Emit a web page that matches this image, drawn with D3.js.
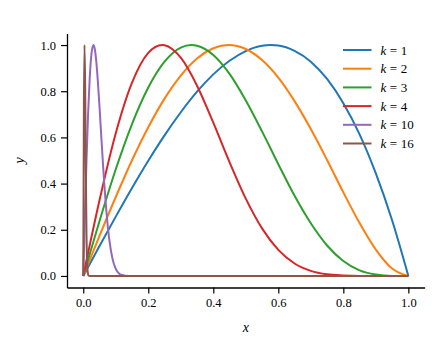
<!DOCTYPE html>
<html>
<head>
<meta charset="utf-8">
<script src="https://cdn.jsdelivr.net/npm/d3@7"></script>
<style>
  body { margin: 0; background: #fff; }
</style>
</head>
<body>
<svg id="chart" width="448" height="339"></svg>
<script>
// values
var xK1 = [0, 0.05, 0.1, 0.15, 0.2, 0.25, 0.3, 0.35, 0.4, 0.45, 0.5, 0.55, 0.577, 0.6, 0.65, 0.7, 0.75, 0.8, 0.85, 0.9, 0.95, 1];
var yK1 = [0, 0.130, 0.257, 0.381, 0.499, 0.609, 0.709, 0.798, 0.873, 0.932, 0.974, 0.997, 1.0, 0.998, 0.975, 0.928, 0.853, 0.748, 0.613, 0.444, 0.241, 0];

var xK2 = [0, 0.05, 0.1, 0.15, 0.2, 0.25, 0.3, 0.35, 0.4, 0.447, 0.5, 0.55, 0.6, 0.65, 0.7, 0.75, 0.8, 0.85, 0.9, 0.95, 1];
var yK2 = [0, 0.174, 0.342, 0.501, 0.644, 0.768, 0.868, 0.942, 0.986, 1.0, 0.983, 0.935, 0.859, 0.757, 0.636, 0.502, 0.362, 0.229, 0.114, 0.032, 0];

var xK3 = [0, 0.05, 0.1, 0.15, 0.2, 0.25, 0.3, 0.333, 0.35, 0.4, 0.45, 0.5, 0.55, 0.6, 0.65, 0.7, 0.75, 0.8, 0.85, 0.9, 0.95, 1];
var yK3 = [0, 0.238, 0.462, 0.658, 0.816, 0.928, 0.989, 1.0, 0.997, 0.957, 0.875, 0.760, 0.626, 0.484, 0.347, 0.228, 0.132, 0.065, 0.024, 0.006, 0.0, 0];

var xK4 = [0, 0.05, 0.1, 0.15, 0.2, 0.243, 0.25, 0.3, 0.35, 0.4, 0.45, 0.5, 0.55, 0.6, 0.65, 0.7, 0.75, 0.8, 0.85, 0.9, 0.95, 1];
var yK4 = [0, 0.328, 0.618, 0.837, 0.966, 1.0, 0.999, 0.945, 0.824, 0.664, 0.493, 0.335, 0.206, 0.113, 0.054, 0.022, 0.007, 0.002, 0, 0, 0, 0];

var xK10 = [0, 0.005, 0.01, 0.015, 0.02, 0.025, 0.031, 0.035, 0.04, 0.045, 0.05, 0.055, 0.06, 0.065, 0.07, 0.075, 0.08, 0.09, 0.1, 0.11, 0.12, 0.13, 0.15, 1];
var yK10 = [0, 0.261, 0.502, 0.706, 0.860, 0.958, 1.0, 0.986, 0.930, 0.841, 0.733, 0.615, 0.500, 0.393, 0.299, 0.220, 0.158, 0.074, 0.031, 0.011, 0.004, 0.001, 0, 0];

var xK16 = [0, 0.002, 0.0039, 0.006, 0.008, 0.010, 0.012, 0.014, 0.016, 0.02, 1];
var yK16 = [0, 0.73, 1.0, 0.80, 0.45, 0.18, 0.055, 0.013, 0.002, 0, 0];

var kLabels = ["1", "2", "3", "4", "10", "16"];
var colors = ["#1f77b4", "#ff7f0e", "#2ca02c", "#d62728", "#9467bd", "#8c564b"];
var xTicks = [0, 0.2, 0.4, 0.6, 0.8, 1.0];
var yTicks = [0, 0.2, 0.4, 0.6, 0.8, 1.0];

// pick the first Times-like font that is really installed
function pickSerif() {
    var ctx = document.createElement("canvas").getContext("2d");
    var probe = "0.123 k=16 xy";
    var candidates = ["Liberation Serif", "Times New Roman", "Tinos", "Nimbus Roman", "DejaVu Serif"];
    for (var i = 0; i < candidates.length; i++) {
        ctx.font = "40px monospace";
        var w0 = ctx.measureText(probe).width;
        ctx.font = "40px '" + candidates[i] + "', monospace";
        if (ctx.measureText(probe).width !== w0) return "'" + candidates[i] + "', serif";
    }
    return "serif";
}

(function() {
    var series = [
        { k: kLabels[0], xs: xK1, ys: yK1 },
        { k: kLabels[1], xs: xK2, ys: yK2 },
        { k: kLabels[2], xs: xK3, ys: yK3 },
        { k: kLabels[3], xs: xK4, ys: yK4 },
        { k: kLabels[4], xs: xK10, ys: yK10 },
        { k: kLabels[5], xs: xK16, ys: yK16 }
    ];

    var serif = pickSerif();
    var svg = d3.select("#chart").attr("font-family", serif);

    var plotLeft = 67, plotRight = 424.6, plotTop = 33.5, plotBottom = 287.5;

    // matplotlib style 5% margins on both axes
    var x = d3.scaleLinear().domain([-0.05, 1.05]).range([plotLeft, plotRight]);
    var y = d3.scaleLinear().domain([-0.05, 1.05]).range([plotBottom, plotTop]);

    // axes
    var xAxis = svg.append("g")
        .attr("transform", "translate(0," + plotBottom + ")")
        .call(d3.axisBottom(x).tickValues(xTicks).tickFormat(d3.format(".1f")).tickSize(6).tickPadding(5).tickSizeOuter(0));
    var yAxis = svg.append("g")
        .attr("transform", "translate(" + plotLeft + ",0)")
        .call(d3.axisLeft(y).tickValues(yTicks).tickFormat(d3.format(".1f")).tickSize(6).tickPadding(5).tickSizeOuter(0));

    [xAxis, yAxis].forEach(function(g) {
        g.attr("font-family", serif).attr("font-size", 12.5);
        g.select(".domain").attr("stroke", "#000").attr("stroke-width", 1.3);
        g.selectAll(".tick line").attr("stroke", "#000").attr("stroke-width", 1.2);
        g.selectAll(".tick text").attr("fill", "#000");
    });

    // lines
    var line = d3.line()
        .x(function(d) { return x(d[0]); })
        .y(function(d) { return y(d[1]); })
        .curve(d3.curveMonotoneX);

    series.forEach(function(s, i) {
        var pts = s.xs.map(function(v, j) { return [v, s.ys[j]]; });
        svg.append("path")
            .datum(pts)
            .attr("fill", "none")
            .attr("stroke", colors[i])
            .attr("stroke-width", 2)
            .attr("stroke-linejoin", "round")
            .attr("d", line);
    });

    // axis labels
    svg.append("text")
        .attr("x", (plotLeft + plotRight) / 2)
        .attr("y", 332)
        .attr("text-anchor", "middle")
        .attr("font-size", 14)
        .attr("font-style", "italic")
        .text("x");

    svg.append("text")
        .attr("transform", "translate(24," + ((plotTop + plotBottom) / 2) + ") rotate(-90)")
        .attr("text-anchor", "middle")
        .attr("font-size", 14)
        .attr("font-style", "italic")
        .text("y");

    // legend
    var legend = svg.append("g").attr("transform", "translate(343,50)");
    series.forEach(function(s, i) {
        var row = legend.append("g").attr("transform", "translate(0," + (i * 18.7) + ")");
        row.append("line")
            .attr("x1", 0).attr("x2", 28.5)
            .attr("y1", 0).attr("y2", 0)
            .attr("stroke", colors[i])
            .attr("stroke-width", 2);
        var t = row.append("text")
            .attr("x", 37.5)
            .attr("y", 4.5)
            .attr("font-size", 13);
        t.append("tspan").attr("font-style", "italic").text("k");
        t.append("tspan").attr("dx", 3.5).text("=");
        t.append("tspan").attr("dx", 3.5).text(s.k);
    });
})();
</script>
</body>
</html>
